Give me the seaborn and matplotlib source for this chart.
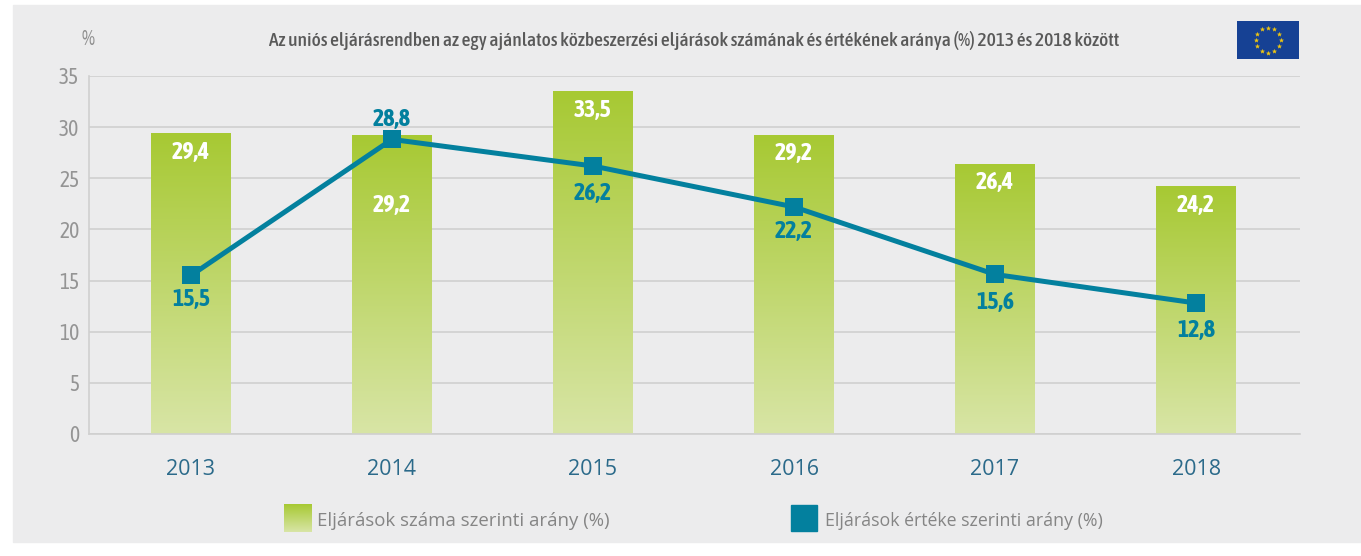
import numpy as np
import pandas as pd
import seaborn as sns
from matplotlib import pyplot as plt
from matplotlib.colors import LinearSegmentedColormap
from matplotlib.patches import Rectangle

years = ["2013", "2014", "2015", "2016", "2017", "2018"]
szam = [29.4, 29.2, 33.5, 29.2, 26.4, 24.2]
ertek = [15.5, 28.8, 26.2, 22.2, 15.6, 12.8]

title = "Az uniós eljárásrendben az egy ajánlatos közbeszerzési eljárások számának és értékének aránya (%) 2013 és 2018 között"
legend_szam = "Eljárások száma szerinti arány (%)"
legend_ertek = "Eljárások értéke szerinti arány (%)"

# label offsets in pixels from the bar top / the marker
szam_dy = [-19, -70, -19, -18, -19, -19]
ertek_dy = [-24, 20, -27, -25, -28, -27]

W, H = 1361, 556
BG = "#ececed"
GRID = "#d0d0d0"
TEAL = "#03809e"
narrow = ["Asap Condensed", "Open Sans", "DejaVu Sans"]

df = pd.DataFrame({"year": years, "szam": szam, "ertek": ertek})
green = LinearSegmentedColormap.from_list("green", ["#d8e5a6", "#a7c933"])
grad = np.linspace(1, 0, 256).reshape(-1, 1)


def px_axes(fig, x0, y0, x1, y1, **kw):
    return fig.add_axes([x0 / W, 1 - y1 / H, (x1 - x0) / W, (y1 - y0) / H], **kw)


sns.set_theme(style="white")
plt.rcParams["font.family"] = ["Open Sans", "DejaVu Sans"]

fig = plt.figure(figsize=(W / 100, H / 100), dpi=100, facecolor="white")
fig.add_artist(Rectangle((13 / W, 1 - 542 / H), 1 - 13 / W, 537 / H,
                         transform=fig.transFigure, color=BG, zorder=-5))

ax = px_axes(fig, 89, 76, 1300, 434)
ax.patch.set_alpha(0)
sns.barplot(data=df, x="year", y="szam", color="#a7c933", width=0.396, linewidth=0, ax=ax, zorder=2)

# gradient fill inside each bar
for bar in ax.patches:
    x, w, h = bar.get_x(), bar.get_width(), bar.get_height()
    im = ax.imshow(grad, cmap=green, vmin=0, vmax=1, aspect="auto",
                   extent=(x, x + w, 0, h), zorder=2.1)
    im.set_clip_path(bar)

sns.pointplot(data=df, x="year", y="ertek", color=TEAL, markers="s", markersize=12.5,
              linewidth=3.6, errorbar=None, ax=ax, zorder=3)
for ln in ax.lines:
    ln.set_zorder(3)
    ln.set_markeredgewidth(0)
ax.set_xlim(-0.507, 5.517)
ax.set_ylim(0, 35)

ax.set_xlabel("")
ax.set_ylabel("")
ax.set_yticks(range(0, 36, 5))
ax.yaxis.grid(True, color=GRID, lw=1.2, zorder=0)
ax.set_axisbelow(True)
ax.tick_params(axis="y", length=0, pad=7, labelsize=15.5, labelcolor="#949494")
ax.tick_params(axis="x", length=0, pad=18, labelsize=15.5, labelcolor="#2b6a8a")
for t in ax.get_yticklabels():
    t.set_fontfamily(narrow)
sns.despine(ax=ax, top=True, right=True)
for side in ["left", "bottom"]:
    ax.spines[side].set_color(GRID)
    ax.spines[side].set_linewidth(1.2)

for i, val in enumerate(szam):
    ax.annotate(f"{val:.1f}".replace(".", ","), (i, val), xytext=(0, szam_dy[i] * 0.72),
                textcoords="offset points", ha="center", va="center", color="white",
                fontsize=17.2, fontweight="bold", fontfamily=narrow, zorder=4)
for i, val in enumerate(ertek):
    ax.annotate(f"{val:.1f}".replace(".", ","), (i, val), xytext=(0, ertek_dy[i] * 0.72),
                textcoords="offset points", ha="center", va="center", color=TEAL,
                fontsize=17.2, fontweight="bold", fontfamily=narrow, zorder=4)

fig.text(694 / W, 1 - 40 / H, title, ha="center", va="center", color="#595959",
         fontsize=14, fontweight=500, fontfamily=narrow)
fig.text(88 / W, 1 - 39 / H, "%", ha="center", va="center", color="#8f8f8f",
         fontsize=15, fontfamily=narrow)

# legend
sw = px_axes(fig, 284, 504, 312, 532)
sw.imshow(grad, cmap=green, vmin=0, vmax=1, aspect="auto")
sw.axis("off")
fig.text(317 / W, 1 - 521 / H, legend_szam, ha="left", va="center", color="#858585", fontsize=13.4)
fig.add_artist(Rectangle((791 / W, 1 - 531 / H), 26 / W, 26 / H,
                         transform=fig.transFigure, color=TEAL))
fig.text(825 / W, 1 - 521 / H, legend_ertek, ha="left", va="center", color="#858585", fontsize=12.8)

# EU flag
flag = px_axes(fig, 1237, 21, 1299, 59)
flag.set_facecolor("#164194")
flag.set_xlim(0, 62)
flag.set_ylim(0, 38)
flag.set_xticks([])
flag.set_yticks([])
for s in flag.spines.values():
    s.set_visible(False)
ang = np.arange(12) * np.pi / 6
flag.scatter(31 + 12.5 * np.cos(ang), 19 + 12.5 * np.sin(ang), s=9, marker="*", color="#f2c80f", linewidths=0.3)

fig.savefig("out.png", dpi=100)
